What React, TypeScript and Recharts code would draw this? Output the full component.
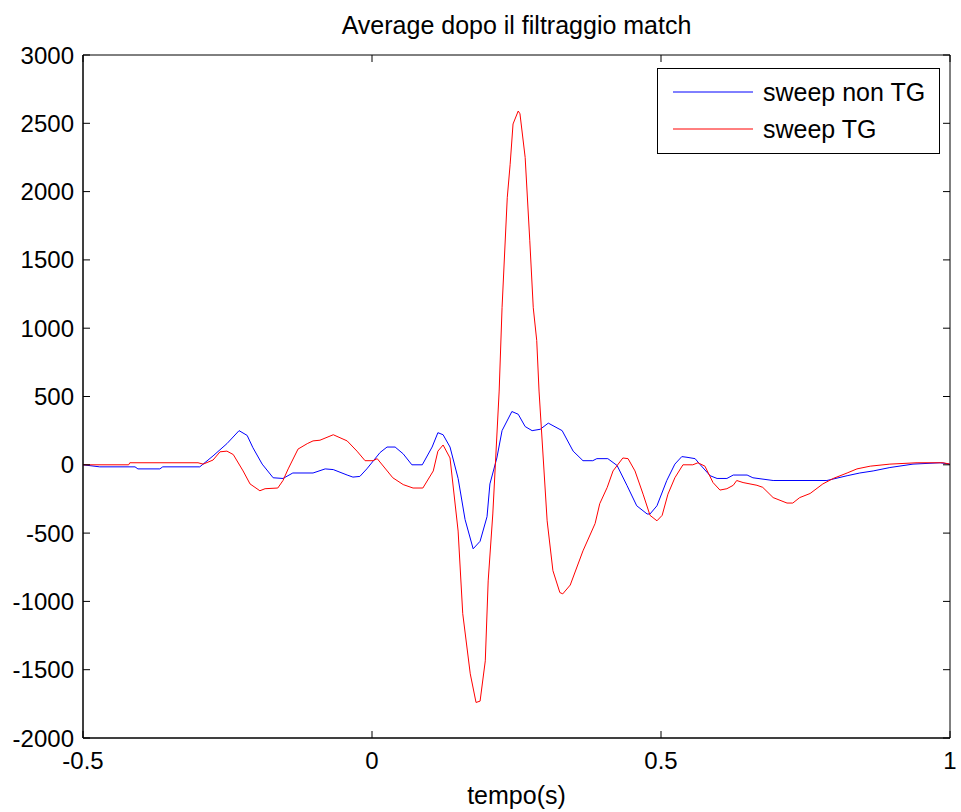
import { LineChart, Line, XAxis, YAxis, ReferenceArea } from "recharts";

// sweep non TG (blue)
const nonTgTime = [
  -0.5, -0.471, -0.41, -0.405, -0.367, -0.362, -0.298, -0.275, -0.251, -0.23,
  -0.216, -0.206, -0.19, -0.171, -0.154, -0.137, -0.102, -0.081, -0.067, -0.043,
  -0.033, -0.021, -0.009, 0.014, 0.026, 0.04, 0.054, 0.069, 0.087, 0.104,
  0.114, 0.123, 0.135, 0.149, 0.161, 0.175, 0.187, 0.199, 0.204, 0.216,
  0.225, 0.242, 0.253, 0.265, 0.277, 0.291, 0.305, 0.329, 0.348, 0.365,
  0.382, 0.389, 0.408, 0.424, 0.441, 0.458, 0.476, 0.481, 0.493, 0.51,
  0.524, 0.536, 0.545, 0.559, 0.567, 0.585, 0.597, 0.614, 0.625, 0.649,
  0.659, 0.694, 0.787, 0.822, 0.844, 0.867, 0.896, 0.936, 0.983, 1.0,
];
const nonTgValue = [
  0, -15, -15, -30, -30, -15, -15, 65, 155, 250,
  215, 125, 5, -95, -100, -60, -60, -30, -35, -75,
  -90, -85, -30, 90, 130, 130, 80, 0, 0, 130,
  235, 220, 130, -100, -400, -615, -560, -380, -140, 50,
  250, 390, 370, 280, 250, 260, 305, 250, 100, 30,
  30, 45, 45, -5, -150, -300, -360, -360, -300, -115,
  5, 60, 55, 45, 5, -80, -100, -100, -75, -75,
  -95, -115, -115, -80, -60, -45, -20, 5, 15, 5,
];

// sweep TG (red)
const tgTime = [
  -0.5, -0.421, -0.419, -0.301, -0.292, -0.275, -0.263, -0.251, -0.24, -0.223,
  -0.211, -0.194, -0.185, -0.163, -0.154, -0.145, -0.128, -0.112, -0.102, -0.09,
  -0.067, -0.043, -0.026, -0.012, 0.002, 0.009, 0.036, 0.054, 0.071, 0.088,
  0.106, 0.114, 0.123, 0.135, 0.149, 0.157, 0.17, 0.18, 0.187, 0.196,
  0.201, 0.209, 0.22, 0.225, 0.234, 0.239, 0.244, 0.253, 0.256, 0.265,
  0.273, 0.279, 0.285, 0.289, 0.303, 0.313, 0.325, 0.33, 0.343, 0.365,
  0.386, 0.394, 0.407, 0.417, 0.434, 0.443, 0.455, 0.469, 0.481, 0.493,
  0.502, 0.512, 0.524, 0.538, 0.555, 0.564, 0.576, 0.59, 0.602, 0.614,
  0.625, 0.631, 0.642, 0.666, 0.676, 0.694, 0.718, 0.728, 0.74, 0.758,
  0.78, 0.798, 0.822, 0.839, 0.862, 0.896, 0.943, 0.988, 1.0,
];
const tgValue = [
  0, 0, 15, 15, 5, 35, 95, 100, 75, -45,
  -140, -190, -175, -170, -115, -30, 115, 155, 175, 180,
  220, 175, 100, 30, 30, 45, -95, -145, -170, -170,
  -45, 100, 145, 50, -485, -1090, -1530, -1740, -1730, -1435,
  -850, -360, 540, 1150, 1955, 2200, 2495, 2590, 2570, 2250,
  1640, 1150, 910, 540, -410, -775, -935, -945, -880, -630,
  -430, -285, -165, -45, 50, 45, -45, -215, -370, -410,
  -370, -215, -95, 0, 0, 15, -10, -130, -185, -175,
  -150, -115, -130, -150, -165, -240, -280, -280, -240, -210,
  -140, -100, -60, -30, -10, 5, 15, 15, 5,
];

const xTicks = [-0.5, 0, 0.5, 1];
const yTicks = [-2000, -1500, -1000, -500, 0, 500, 1000, 1500, 2000, 2500, 3000];
const seriesNames = ["sweep non TG", "sweep TG"];
const seriesColors = ["#0000ff", "#ff0000"];

const FONT = "'Liberation Sans', Arial, sans-serif";
const W = 961;
const H = 812;
const PL = 83;
const PT = 55;
const PR = 950;
const PB = 738;
const TICK = 7;

const nonTgPoints = nonTgTime.map((t, i) => ({ t, v: nonTgValue[i] }));
const tgPoints = tgTime.map((t, i) => ({ t, v: tgValue[i] }));

function XTick(props: any) {
  const { x, payload } = props;
  return (
    <g>
      <line x1={x} x2={x} y1={PB} y2={PB - TICK} stroke="#000" />
      <line x1={x} x2={x} y1={PT} y2={PT + TICK} stroke="#000" />
      <text
        x={x}
        y={760}
        textAnchor="middle"
        dominantBaseline="central"
        fontSize={24}
        fontFamily={FONT}
        fill="#000"
      >
        {payload.value}
      </text>
    </g>
  );
}

function YTick(props: any) {
  const { y, payload } = props;
  return (
    <g>
      <line x1={PL} x2={PL + TICK} y1={y} y2={y} stroke="#000" />
      <line x1={PR - TICK} x2={PR} y1={y} y2={y} stroke="#000" />
      <text
        x={PL - 9}
        y={y}
        textAnchor="end"
        dominantBaseline="central"
        fontSize={24}
        fontFamily={FONT}
        fill="#000"
      >
        {payload.value}
      </text>
    </g>
  );
}

function LegendBox() {
  return (
    <svg
      width={283}
      height={86}
      style={{ position: "absolute", left: 656.5, top: 67.5 }}
    >
      <rect x={0.5} y={0.5} width={282} height={85} fill="#fff" stroke="#000" />
      {seriesNames.map((name, i) => (
        <g key={name}>
          <line
            x1={16}
            x2={96}
            y1={24 + i * 37}
            y2={24 + i * 37}
            stroke={seriesColors[i]}
          />
          <text
            x={106}
            y={24 + i * 37}
            dominantBaseline="central"
            fontSize={25}
            fontFamily={FONT}
            fill="#000"
          >
            {name}
          </text>
        </g>
      ))}
    </svg>
  );
}

export default function App() {
  return (
    <div
      style={{
        position: "absolute",
        left: 0,
        top: 0,
        width: W,
        height: H,
        background: "#fff",
        fontFamily: FONT,
      }}
    >
      <div
        style={{
          position: "absolute",
          left: 0,
          width: (PL + PR),
          top: 10,
          textAlign: "center",
          fontSize: 25,
          lineHeight: "30px",
          color: "#000",
        }}
      >
        Average dopo il filtraggio match
      </div>

      <LineChart
        width={W}
        height={H}
        margin={{ top: PT, right: W - PR, left: 0, bottom: 0 }}
      >
        <XAxis
          dataKey="t"
          type="number"
          domain={[-0.5, 1]}
          ticks={xTicks}
          interval={0}
          allowDataOverflow
          tickLine={false}
          tick={XTick}
          axisLine={{ stroke: "#000" }}
          height={H - PB}
        />
        <YAxis
          dataKey="v"
          type="number"
          domain={[-2000, 3000]}
          ticks={yTicks}
          interval={0}
          allowDataOverflow
          tickLine={false}
          tick={YTick}
          axisLine={{ stroke: "#000" }}
          width={PL}
        />
        <ReferenceArea
          x1={-0.5}
          x2={1}
          y1={-2000}
          y2={3000}
          fill="none"
          stroke="#000"
          strokeOpacity={1}
          fillOpacity={0}
        />
        <Line
          data={nonTgPoints}
          dataKey="v"
          name={seriesNames[0]}
          type="linear"
          stroke={seriesColors[0]}
          strokeWidth={1}
          dot={false}
          isAnimationActive={false}
        />
        <Line
          data={tgPoints}
          dataKey="v"
          name={seriesNames[1]}
          type="linear"
          stroke={seriesColors[1]}
          strokeWidth={1}
          dot={false}
          isAnimationActive={false}
        />
      </LineChart>

      <LegendBox />

      <div
        style={{
          position: "absolute",
          left: 0,
          width: (PL + PR),
          top: 780,
          textAlign: "center",
          fontSize: 25,
          lineHeight: "30px",
          color: "#000",
        }}
      >
        tempo(s)
      </div>
    </div>
  );
}
